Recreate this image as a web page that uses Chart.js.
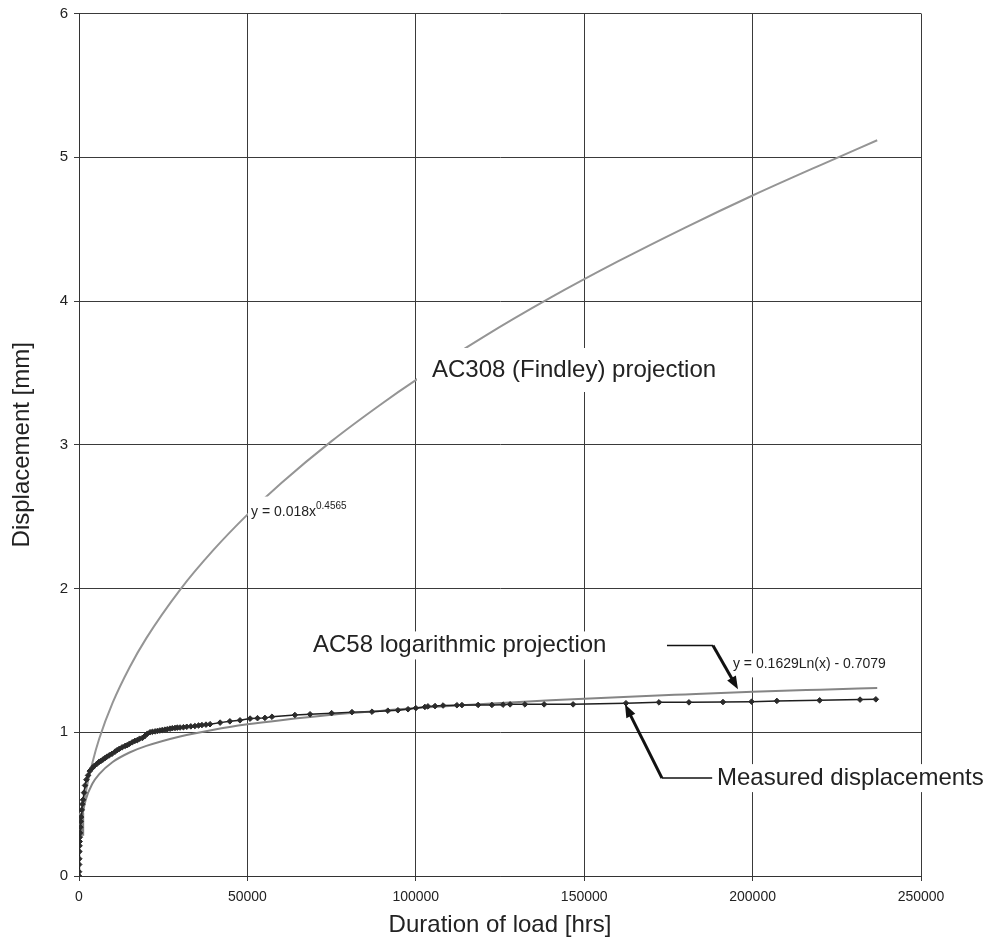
<!DOCTYPE html>
<html>
<head>
<meta charset="utf-8">
<script src="https://cdn.jsdelivr.net/npm/chart.js@4.4.1/dist/chart.umd.min.js"></script>
<style>
  html, body { margin: 0; padding: 0; background: #fff; }
  #wrap { width: 992px; height: 943px; }
</style>
</head>
<body>
<div id="wrap"><canvas id="creep" width="992" height="943"></canvas></div>
<script>
// measured displacement vs. duration of load
var hours = [0, 20, 50, 80, 120, 160, 200, 250, 300, 400, 500, 600, 800, 1000, 1200, 1500, 1800, 2200, 2700,
  3200, 3900, 4500, 5300, 6000, 6500, 7100, 7700, 8300, 9000, 9800, 10700, 11300, 12000, 12800, 13700,
  14300, 15000, 15800, 16600, 17300, 18000, 18800, 19600, 20300, 21100, 21800, 22600, 23300, 24000,
  24700, 25500, 26200, 27000, 27700, 28500, 29200, 30000, 31000, 32000, 33200, 34400, 35500, 36500,
  37700, 38900, 41900, 44800, 47800, 50800, 53000, 55200, 57300, 64100, 68600, 75000, 81050, 87000,
  91700, 94700, 97700, 100000, 102700, 103600, 105700, 108100, 112200, 113700, 118500, 122600, 125900,
  128000, 132400, 138100, 146700, 162400, 172200, 181100, 191200, 199700, 207200, 219900, 231900, 236600];
var measured = [0, 0.03, 0.08, 0.12, 0.17, 0.21, 0.24, 0.27, 0.30, 0.34, 0.38, 0.41, 0.46, 0.50, 0.53, 0.58, 0.63, 0.67, 0.70,
  0.73, 0.75, 0.765, 0.78, 0.795, 0.80, 0.81, 0.82, 0.83, 0.84, 0.85, 0.865, 0.875, 0.885, 0.895, 0.905,
  0.91, 0.92, 0.93, 0.94, 0.945, 0.955, 0.96, 0.975, 0.99, 1.0, 1.003, 1.006, 1.009, 1.012,
  1.015, 1.018, 1.021, 1.025, 1.028, 1.03, 1.032, 1.033, 1.035, 1.038, 1.041, 1.043, 1.047, 1.05,
  1.053, 1.056, 1.067, 1.076, 1.083, 1.095, 1.098, 1.10, 1.108, 1.12, 1.125, 1.133, 1.14, 1.143,
  1.15, 1.153, 1.16, 1.168, 1.176, 1.18, 1.182, 1.186, 1.188, 1.189, 1.19, 1.19, 1.192,
  1.194, 1.194, 1.194, 1.194, 1.202, 1.208, 1.208, 1.21, 1.213, 1.218, 1.222, 1.227, 1.229];

// projection curves (Findley power law and logarithmic fit)
var trendHours = [450, 700, 1000, 2000, 4000, 6000, 10000, 15000, 20000, 30000, 40000, 50000, 60000, 75000,
  90000, 100000, 120000, 140000, 160000, 180000, 200000, 220000, 237000];
var findley = [0.30, 0.36, 0.42, 0.58, 0.79, 0.955, 1.206, 1.451, 1.655, 1.991, 2.270, 2.514, 2.732, 3.025,
  3.287, 3.449, 3.749, 4.023, 4.275, 4.511, 4.734, 4.944, 5.118];
var logFit = [0.287, 0.359, 0.417, 0.530, 0.643, 0.709, 0.793, 0.859, 0.905, 0.971, 1.018, 1.055, 1.084, 1.121,
  1.150, 1.168, 1.197, 1.222, 1.244, 1.263, 1.281, 1.296, 1.308];

// overlapping start of both fits near the origin
var startHours = [500, 500];
var startBand = [0.28, 0.44];

var xTicks = [0, 50000, 100000, 150000, 200000, 250000];
var yTicks = [0, 1, 2, 3, 4, 5, 6];

var FONT = '"Liberation Sans", Arial, Helvetica, sans-serif';
var INK = '#222';

function pts(xs, ys) {
  return xs.map(function (x, i) { return { x: x, y: ys[i] }; });
}

// text callouts with a white backing box, plus leader arrows
var notes = {
  id: 'notes',
  afterDatasetsDraw: function (chart) {
    var ctx = chart.ctx, sx = chart.scales.x, sy = chart.scales.y;
    function px(v) { return sx.getPixelForValue(v); }
    function py(v) { return sy.getPixelForValue(v); }

    function label(text, x, y, size, padL, padR, padT, padB) {
      ctx.font = size + 'px ' + FONT;
      var w = ctx.measureText(text).width;
      var left = px(x), mid = py(y);
      ctx.fillStyle = '#fff';
      ctx.fillRect(left - padL, mid - padT, w + padL + padR, padT + padB);
      ctx.fillStyle = INK;
      ctx.textAlign = 'left';
      ctx.textBaseline = 'middle';
      ctx.fillText(text, left, mid);
      return left + w;
    }

    function arrow(x0, y0, x1, y1, width) {
      var a = px(x0), b = py(y0), c = px(x1), d = py(y1);
      var ang = Math.atan2(d - b, c - a), len = 13, half = 5;
      ctx.strokeStyle = '#111';
      ctx.fillStyle = '#111';
      ctx.lineWidth = width;
      ctx.beginPath();
      ctx.moveTo(a, b);
      ctx.lineTo(c - Math.cos(ang) * len * 0.8, d - Math.sin(ang) * len * 0.8);
      ctx.stroke();
      ctx.beginPath();
      ctx.moveTo(c, d);
      ctx.lineTo(c - Math.cos(ang) * len - Math.sin(ang) * half, d - Math.sin(ang) * len + Math.cos(ang) * half);
      ctx.lineTo(c - Math.cos(ang) * len + Math.sin(ang) * half, d - Math.sin(ang) * len - Math.cos(ang) * half);
      ctx.closePath();
      ctx.fill();
    }

    function line(x0, y0, x1, y1, width) {
      ctx.strokeStyle = '#111';
      ctx.lineWidth = width;
      ctx.beginPath();
      ctx.moveTo(px(x0), py(y0));
      ctx.lineTo(px(x1), py(y1));
      ctx.stroke();
    }

    ctx.save();
    label('AC308 (Findley) projection', 104800, 3.52, 24, 15, 7, 22, 22);

    // power-law equation with superscript exponent
    var end = label('y = 0.018x', 51070, 2.528, 14, 3, 40, 16, 10);
    ctx.font = '10px ' + FONT;
    ctx.fillText('0.4565', end, py(2.528) - 6);

    label('AC58 logarithmic projection', 69470, 1.604, 24, 4, 4, 14, 14);
    label('y = 0.1629Ln(x) - 0.7079', 194170, 1.472, 14, 5, 5, 11, 13);
    label('Measured displacements', 189420, 0.681, 24, 4, 4, 14, 14);

    line(174580, 1.604, 188240, 1.604, 1.5);
    arrow(188240, 1.604, 195660, 1.299, 3);
    line(173100, 0.681, 188000, 0.681, 1.5);
    arrow(173100, 0.681, 162110, 1.194, 3);
    ctx.restore();
  }
};

var ctx = document.getElementById('creep').getContext('2d');

new Chart(ctx, {
  type: 'scatter',
  data: {
    datasets: [
      {
        label: 'Measured displacements',
        data: pts(hours, measured),
        showLine: true,
        borderColor: '#1e1e1e',
        borderWidth: 1.5,
        backgroundColor: '#2b2b2b',
        pointBorderColor: '#2b2b2b',
        pointStyle: 'rectRot',
        pointRadius: 2.8,
        pointBorderWidth: 1,
        order: 0,
      },
      {
        label: 'AC58 logarithmic projection',
        data: pts(trendHours, logFit),
        showLine: true,
        borderColor: '#858585',
        borderWidth: 2,
        pointRadius: 0,
        cubicInterpolationMode: 'monotone',
        order: 1,
      },
      {
        label: 'AC308 (Findley) projection',
        data: pts(trendHours, findley),
        showLine: true,
        borderColor: '#959595',
        borderWidth: 2,
        pointRadius: 0,
        cubicInterpolationMode: 'monotone',
        order: 2,
      },
      {
        label: 'fit start',
        data: pts(startHours, startBand),
        showLine: true,
        borderColor: '#7d7d7d',
        borderWidth: 7,
        borderCapStyle: 'butt',
        pointRadius: 0,
        order: 3,
      },
    ],
  },
  options: {
    responsive: false,
    animation: false,
    devicePixelRatio: 1,
    layout: {
      padding: { left: 0, top: 12, right: 71, bottom: 0 },
    },
    plugins: {
      legend: { display: false },
      tooltip: { enabled: false },
    },
    scales: {
      x: {
        type: 'linear',
        min: 0,
        max: 250000,
        afterFit: function (scale) { scale.height = 67; },
        afterBuildTicks: function (scale) {
          scale.ticks = xTicks.map(function (v) { return { value: v }; });
        },
        border: { color: '#333', width: 1 },
        grid: { color: '#3a3a3a', lineWidth: 1, tickLength: 5 },
        ticks: {
          padding: 8,
          maxRotation: 0,
          color: INK,
          font: { size: 14, family: FONT },
          callback: function (v) { return String(v); },
        },
        title: {
          display: true,
          text: 'Duration of load [hrs]',
          color: INK,
          padding: { top: 0, bottom: 3 },
          font: { size: 24, family: FONT, lineHeight: 1.2 },
        },
      },
      y: {
        type: 'linear',
        min: 0,
        max: 6,
        afterFit: function (scale) { scale.width = 79; },
        afterBuildTicks: function (scale) {
          scale.ticks = yTicks.map(function (v) { return { value: v }; });
        },
        border: { color: '#333', width: 1 },
        grid: { color: '#3a3a3a', lineWidth: 1, tickLength: 5 },
        ticks: {
          padding: 6,
          color: INK,
          font: { size: 15, family: FONT, lineHeight: 1 },
          callback: function (v) { return String(v); },
        },
        title: {
          display: true,
          text: 'Displacement [mm]',
          color: INK,
          padding: { top: 8, bottom: 0 },
          font: { size: 24, family: FONT, lineHeight: 1.2 },
        },
      },
    },
  },
  plugins: [notes],
});
</script>
</body>
</html>
